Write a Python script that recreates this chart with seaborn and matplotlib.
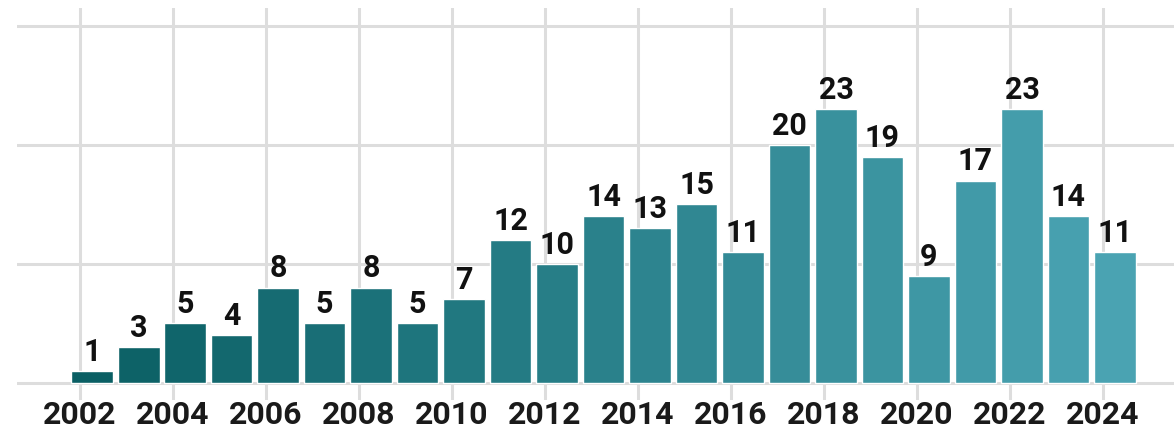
import pandas as pd
import seaborn as sns
import matplotlib.pyplot as plt

# Data
years = list(range(2002, 2025))
counts = [1, 3, 5, 4, 8, 5, 8, 5, 7, 12, 10, 14, 13, 15, 11, 20, 23, 19, 9, 17, 23, 14, 11]
tick_years = list(range(2002, 2025, 2))

df = pd.DataFrame({'year': years, 'count': counts})
df['pos'] = df['year'] + 0.26  # bars sit a little right of the year gridline

# teal gradient, dark -> light
colors = sns.blend_palette(['#0a5f64', '#4aa3b2'], n_colors=len(years))

sns.set_style('white')
plt.rcParams['font.family'] = ['Roboto', 'DejaVu Sans']

fig = plt.figure(figsize=(11.74, 4.33), dpi=100)
ax = fig.add_axes([17 / 1174, 33 / 433, 1 - 17 / 1174, (400 - 8) / 433])

sns.barplot(data=df, x='pos', y='count', hue='year', palette=colors, legend=False,
            native_scale=True, dodge=False, width=0.9, saturation=1, ax=ax)

for c in ax.containers:
    ax.bar_label(c, padding=3, fontsize=22, fontweight='bold', color='#111111')

ax.set_xlim(2000.645, 2025.53)
ax.set_ylim(-1.45, 31.5)
ax.set_xticks(tick_years)
ax.set_xticklabels([str(y) for y in tick_years], fontsize=23, fontweight='bold', color='#1a1a1a')
ax.set_yticks([0, 10, 20, 30])
ax.set_yticklabels([])
ax.tick_params(length=0, pad=0)
ax.set_xlabel('')
ax.set_ylabel('')
ax.grid(True, color='#dddddd', linewidth=2.2)
ax.set_axisbelow(True)
sns.despine(ax=ax, left=True, bottom=True, top=True, right=True)

plt.savefig('out.png', dpi=100)
